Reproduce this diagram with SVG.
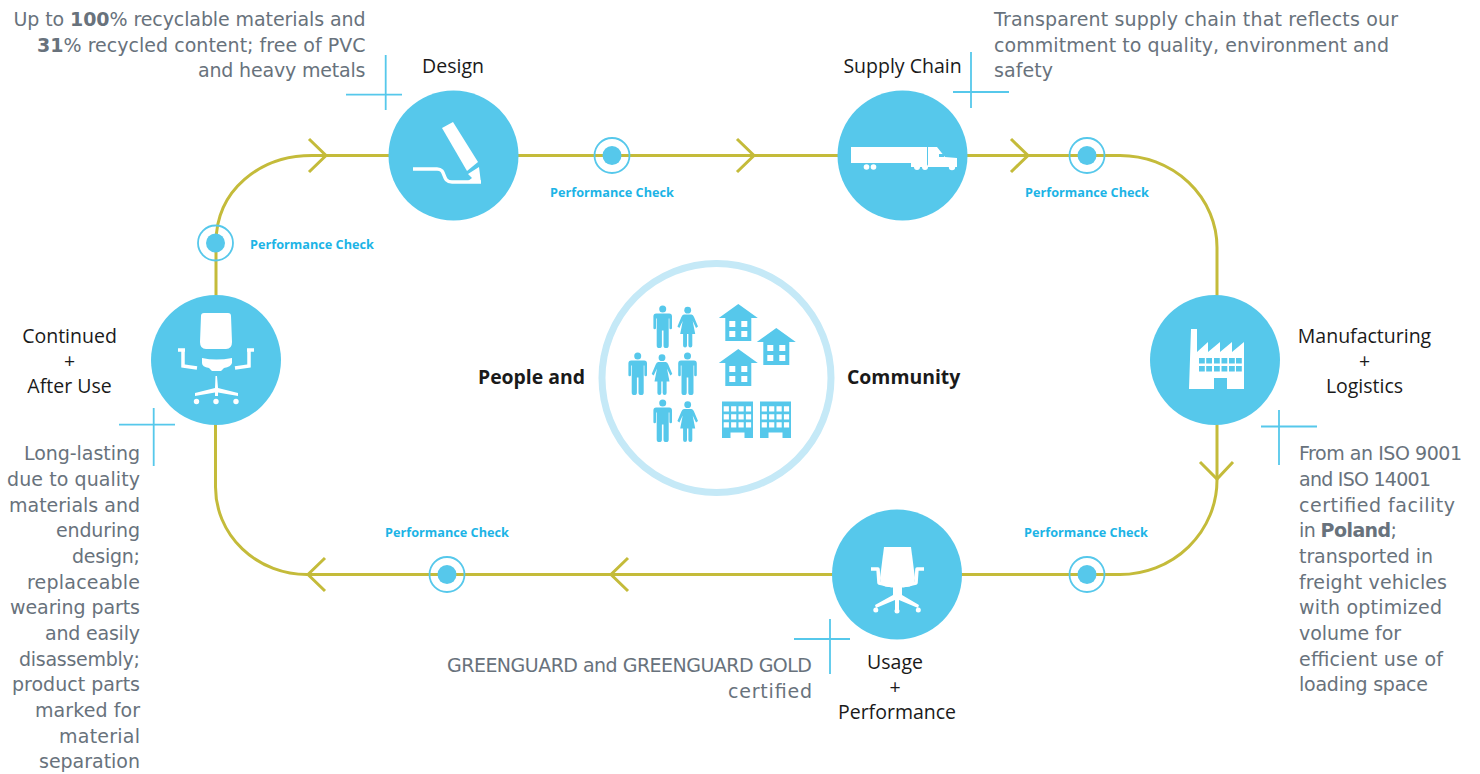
<svg xmlns="http://www.w3.org/2000/svg" width="1480" height="774" viewBox="0 0 1480 774">
<style>
.bg{fill:#fff}
.track,.chev{fill:none;stroke:#c4bb3a;stroke-width:3}
.disc{fill:#56c8eb}
.ring{fill:none;stroke:#56c8eb;stroke-width:1.8}
.cross{stroke:#56c8eb;stroke-width:1.8;fill:none}
.ic{fill:#fff}
.pic{fill:#56c8eb}
.w{fill:#fff}
text{font-family:"DejaVu Sans","Liberation Sans",sans-serif}
.body{font-size:19px;fill:#68727c}
.lab{font-family:"Open Sans","Noto Sans",sans-serif;font-size:19.500px;fill:#1a1a1a;text-anchor:middle}
.big{font-family:"Open Sans","Noto Sans",sans-serif;font-size:19.400px;font-weight:700;fill:#1a1a1a}
.pc{font-family:"Open Sans","Noto Sans",sans-serif;font-size:12.700px;font-weight:700;fill:#1db4e6;text-anchor:middle}
.e{text-anchor:end}
</style>
<defs>
<g id="man"><circle cx="0" cy="3.4" r="3.500"/><path d="M-6.500 8H6.500Q9.300 8 9.300 11V22.500A1.300 1.300 0 0 1 6.700 22.500V13H6V40A1.400 1.400 0 0 1 .8 40V25H-.8V40A1.400 1.400 0 0 1 -6 40V13H-6.700V22.500A1.300 1.300 0 0 1 -9.300 22.500V11Q-9.300 8 -6.500 8Z"/></g>
<g id="woman"><circle cx="0" cy="3.200" r="3.400"/><path d="M-3.800 7.500H3.800Q5.400 7.500 6.300 10L10.300 19.500L8.300 21L5 14L7.500 27H4.600V38.500A1.400 1.400 0 0 1 .7 38.500V27H-.7V38.500A1.400 1.400 0 0 1 -4.600 38.500V27H-7.500L-5 14L-8.300 21L-10.300 19.500L-6.300 10Q-5.400 7.500 -3.800 7.500Z"/></g>
<g id="house"><path d="M0 0L19.500 14H13V37H-13V14H-19.500Z"/><path class="w" d="M-9 17h6v6h-6zM3 17h6v6h-6zM-9 27h6v6h-6zM3 27h6v6h-6z"/></g>
<g id="block"><path d="M0 0H31V36.500H22.500V31H8.500V36.500H0Z"/><path class="w" d="M1.700 4.700h5.200v5.400H1.700zM9.100 4.700h5.200v5.400H9.100zM16.500 4.700h5.200v5.400h-5.200zM23.900 4.700h5.200v5.400h-5.200zM1.700 12.700h5.200v5.400H1.700zM9.100 12.700h5.200v5.400H9.100zM16.500 12.700h5.200v5.400h-5.200zM23.900 12.700h5.200v5.400h-5.200zM1.700 20.700h5.200v5.400H1.700zM9.100 20.700h5.200v5.400H9.100zM16.500 20.700h5.200v5.400h-5.200zM23.900 20.700h5.200v5.400h-5.200z"/></g>
<g id="check"><circle class="ring" r="17.500"/><circle class="disc" r="9.500"/></g>
</defs>
<rect class="bg" width="1480" height="774"/>

<g id="connectors">
<path class="track" d="M216 360V243C216 190 260 155.500 312 155.500H1120A97 92 0 0 1 1217 247.500V480A97 94.500 0 0 1 1120 574.500H307A91.500 87.500 0 0 1 215.500 487V360"/>
<path class="chev" d="M309 139L326 155.500L309 172M737 139L754 155.500L737 172M1011 139L1028 155.500L1011 172M1200 462L1217 479L1233 462M628 558L611 574.500L628 591M325 558L308 574.500L325 591"/>
</g>

<g id="crosses">
<path class="cross" d="M385.700 55V110M346 94.700H402"/>
<path class="cross" d="M971 52V108M953 92H1009"/>
<path class="cross" d="M1279 410V465M1261 426.500H1317"/>
<path class="cross" d="M830 619V674M794 639H850"/>
<path class="cross" d="M153.700 408V466M119 424.700H175"/>
</g>

<g id="node-design">
<circle class="disc" cx="453.500" cy="155.500" r="65"/>
<path class="ic" d="M442 128L453 122L478 162L467 171Z"/>
<path class="ic" d="M468 174L479 167L481 183L468 181L472 178Z"/>
<path fill="none" stroke="#fff" stroke-width="3.500" d="M413 169H437C447 169 441 182 452 182H481"/>
<text class="lab" x="453" y="72.700">Design</text>
</g>
<g id="node-supply">
<circle class="disc" cx="902.500" cy="155.500" r="65"/>
<path class="ic" d="M851 147H927V167H911V163H851ZM928 147H937L945 157L957 158V167H928Z"/>
<path class="disc" d="M939 154h5v3h-5z"/>
<circle class="ic" cx="866.500" cy="167" r="2.800"/><circle class="ic" cx="873.500" cy="167" r="2.800"/><circle class="ic" cx="917" cy="167" r="3"/><circle class="ic" cx="925" cy="167" r="3"/><circle class="ic" cx="952" cy="167" r="3.200"/>
<text class="lab" x="902.500" y="72.700">Supply Chain</text>
</g>
<g id="node-manufacturing">
<circle class="disc" cx="1215" cy="360" r="65"/>
<path class="ic" d="M1191 329H1197L1197 352L1208 342V352L1220 342V352L1232 342V352L1244 342V389H1227V378H1214V389H1189Z"/>
<path class="disc" d="M1199 358h5.800v5.500h-5.800zM1206.200 358h5.800v5.500h-5.800zM1214 358h5.800v5.500h-5.800zM1221.500 358h5.800v5.500h-5.800zM1229 358h5.800v5.500h-5.800zM1236 358h5.800v5.500h-5.800zM1199 366h5.800v5.500h-5.800zM1206.200 366h5.800v5.500h-5.800zM1214 366h5.800v5.500h-5.800zM1221.500 366h5.800v5.500h-5.800zM1229 366h5.800v5.500h-5.800zM1236 366h5.800v5.500h-5.800z"/>
<text class="lab" x="1364.500" y="342.500">Manufacturing</text><text class="lab" x="1364.500" y="367.500">+</text><text class="lab" x="1364.500" y="392.500">Logistics</text>
</g>
<g id="node-usage">
<circle class="disc" cx="897" cy="574.500" r="65"/>
<path class="ic" d="M884 547H911L915 578Q915 587 906 587H889Q880 587 880 578Z"/>
<path fill="none" stroke="#fff" stroke-width="3.500" stroke-linejoin="round" d="M871 569H878L879 583L893 586M924 569H917L916 583L902 586"/>
<path class="ic" d="M893 586H902V595L919 605L918 608L899 600V611H895V600L876 608L875 605L893 595Z"/>
<circle class="ic" cx="875.800" cy="610" r="2.500"/><circle class="ic" cx="897" cy="611" r="2.500"/><circle class="ic" cx="918.300" cy="610" r="2.500"/>
<text class="lab" x="895" y="668.500">Usage</text><text class="lab" x="895" y="693.500">+</text><text class="lab" x="897" y="718.500">Performance</text>
</g>
<g id="node-continued">
<circle class="disc" cx="216" cy="360" r="65"/>
<path class="ic" d="M204 313H228Q231 313 231 316L232 342Q232 349 226 349H206Q200 349 200 342L201 316Q201 313 204 313Z"/>
<path class="ic" d="M202 358Q216 361 232 358V363Q231 367 224 368L221 371H212L209 368Q202 367 202 363Z"/>
<path fill="none" stroke="#fff" stroke-width="3.500" d="M178 350H185M183 350V366L197 368M254 350H247M249 350V366L235 368"/>
<path class="ic" d="M215.500 376H217L218 388L238 393V396L218 392.500L218 396H215V392.500L195 396V393L215 388Z"/>
<circle class="ic" cx="196.500" cy="401.500" r="2.700"/><circle class="ic" cx="216" cy="401.500" r="2.700"/><circle class="ic" cx="236" cy="401.500" r="2.700"/>
<text class="lab" x="69.500" y="342.500">Continued</text><text class="lab" x="69.500" y="367.500">+</text><text class="lab" x="69.500" y="392.500">After Use</text>
</g>

<g id="node-community">
<circle cx="716.500" cy="378" r="114.500" fill="none" stroke="#c5e9f7" stroke-width="7"/>
<g class="pic">
<use href="#man" x="662.700" y="305.500"/><use href="#woman" x="687.700" y="307"/>
<use href="#man" x="637.700" y="352.500"/><use href="#woman" x="662" y="354.500"/><use href="#man" x="687.500" y="352.500"/>
<use href="#man" x="662.700" y="399.500"/><use href="#woman" x="687.700" y="401.500"/>
<use href="#house" x="738.300" y="304"/><use href="#house" x="776.300" y="328"/><use href="#house" x="738.300" y="349"/>
<use href="#block" x="722" y="401.500"/><use href="#block" x="760" y="401.500"/>
</g>
<text class="big e" x="585" y="384">People and</text>
<text class="big" x="847" y="384">Community</text>
</g>

<g id="checks">
<use href="#check" x="612" y="155.500"/><text class="pc" x="612" y="196.500">Performance Check</text>
<use href="#check" x="1087" y="155.500"/><text class="pc" x="1087" y="196.500">Performance Check</text>
<use href="#check" x="1087" y="574.500"/><text class="pc" x="1086" y="537">Performance Check</text>
<use href="#check" x="447" y="574.500"/><text class="pc" x="447" y="537">Performance Check</text>
<use href="#check" x="215.500" y="243"/><text class="pc" x="312" y="248.500">Performance Check</text>
</g>

<g id="notes">
<g class="body e">
<text x="365.500" y="26" textLength="352">Up to <tspan font-weight="700">100</tspan>% recyclable materials and</text>
<text x="365.500" y="51.600" textLength="328.500"><tspan font-weight="700">31</tspan>% recycled content; free of PVC</text>
<text x="365.500" y="77" textLength="167.500">and heavy metals</text>
</g>
<g class="body">
<text x="994" y="26" textLength="404">Transparent supply chain that reflects our</text>
<text x="994" y="51.600" textLength="395">commitment to quality, environment and</text>
<text x="994" y="77" textLength="59">safety</text>
</g>
<g class="body">
<text x="1299" y="460.300" textLength="163">From an ISO 9001</text>
<text x="1299" y="486" textLength="132">and ISO 14001</text>
<text x="1299" y="511.800" textLength="156">certified facility</text>
<text x="1299" y="537.400" textLength="98">in <tspan font-weight="700">Poland</tspan>;</text>
<text x="1299" y="563" textLength="134">transported in</text>
<text x="1299" y="588.700" textLength="148">freight vehicles</text>
<text x="1299" y="614.300" textLength="143">with optimized</text>
<text x="1299" y="640" textLength="102">volume for</text>
<text x="1299" y="665.600" textLength="144">efficient use of</text>
<text x="1299" y="691.300" textLength="129">loading space</text>
</g>
<g class="body e">
<text x="812" y="671.700" textLength="365">GREENGUARD and GREENGUARD GOLD</text>
<text x="812" y="697.500" textLength="84">certified</text>
</g>
<g class="body e">
<text x="140" y="460.300" textLength="116">Long-lasting</text>
<text x="140" y="486" textLength="133">due to quality</text>
<text x="140" y="511.800" textLength="131">materials and</text>
<text x="140" y="537.400" textLength="84">enduring</text>
<text x="140" y="563" textLength="68">design;</text>
<text x="140" y="588.700" textLength="113">replaceable</text>
<text x="140" y="614.300" textLength="130">wearing parts</text>
<text x="140" y="640" textLength="95">and easily</text>
<text x="140" y="665.600" textLength="121">disassembly;</text>
<text x="140" y="691.300" textLength="128">product parts</text>
<text x="140" y="717" textLength="105">marked for</text>
<text x="140" y="742.600" textLength="81">material</text>
<text x="140" y="768.200" textLength="101">separation</text>
</g>
</g>
</svg>
